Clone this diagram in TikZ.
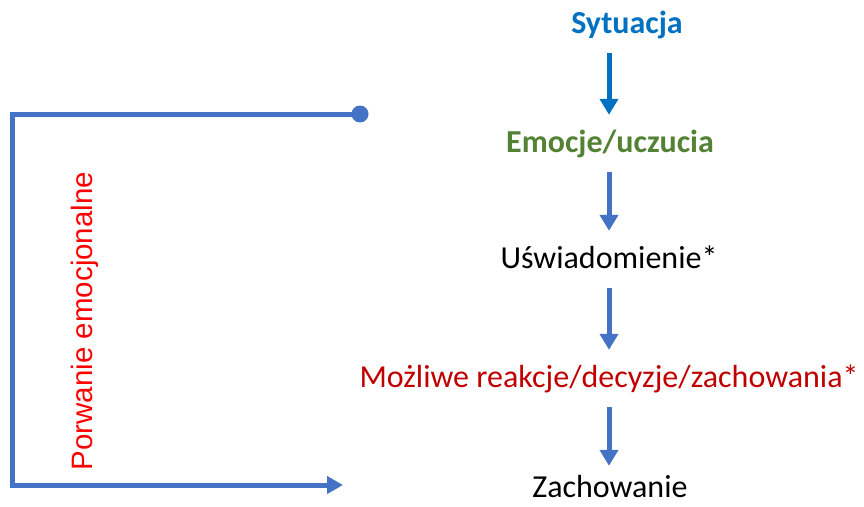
\documentclass[tikz,border=0pt]{standalone}
\usepackage{fontspec}
\setmainfont{Carlito}
\newfontfamily\armfont{Liberation Sans}
\usetikzlibrary{arrows.meta}

\definecolor{sitblue}{HTML}{0070C0}
\definecolor{flowblue}{HTML}{4472C4}
\definecolor{emogreen}{HTML}{548235}
\definecolor{reactred}{HTML}{C00000}

\tikzset{
  stage/.style={anchor=base,inner sep=0pt,text height=20pt,text depth=0pt,
    font=\fontsize{32}{38}\selectfont},
  flow/.style={line width=5pt,flowblue,shorten <=20pt,shorten >=17pt,
    -{Triangle[width=18pt,length=16pt]}},
}

\begin{document}
\begin{tikzpicture}[x=1pt,y=-1pt]
    \useasboundingbox (0,0) rectangle (864,506);
    \coordinate (axis) at (609,0);

    \node[stage,sitblue,font=\fontsize{32}{38}\selectfont\bfseries] (sit) at (627,33) {Sytuacja};
    \node[stage,emogreen,font=\fontsize{32}{38}\selectfont\bfseries] (emo) at (610,152) {Emocje/uczucia};
    \node[stage] (usw) at (609,268) {Uświadomienie*};
    \node[stage,reactred] (moz) at (609,387) {Możliwe reakcje/decyzje/zachowania*};
    \node[stage] (zach) at (610,497) {Zachowanie};

    \draw[flow,sitblue] (sit.south -| axis) -- (emo.north -| axis);
    \draw[flow] (emo.south -| axis) -- (usw.north -| axis);
    \draw[flow] (usw.south -| axis) -- (moz.north -| axis);
    \draw[flow,shorten >=11pt] (moz.south -| axis) -- (zach.north -| axis);

    % emotional hijack loop
    \coordinate (loopstart) at (360,114);
    \coordinate (loopcorner) at (12,485);
    \coordinate (loopend) at (343,485);
    \fill[flowblue] (loopstart) circle (8.5pt);
    \draw[line width=5pt,flowblue,-{Triangle[width=17pt,length=16pt]}]
      (loopstart) -| (loopcorner) -- (loopend);
    \node[anchor=base,rotate=90,inner sep=0pt,red,
      font=\armfont\fontsize{29.5}{34}\selectfont] (porw) at (92,321) {Porwanie emocjonalne};
\end{tikzpicture}
\end{document}
